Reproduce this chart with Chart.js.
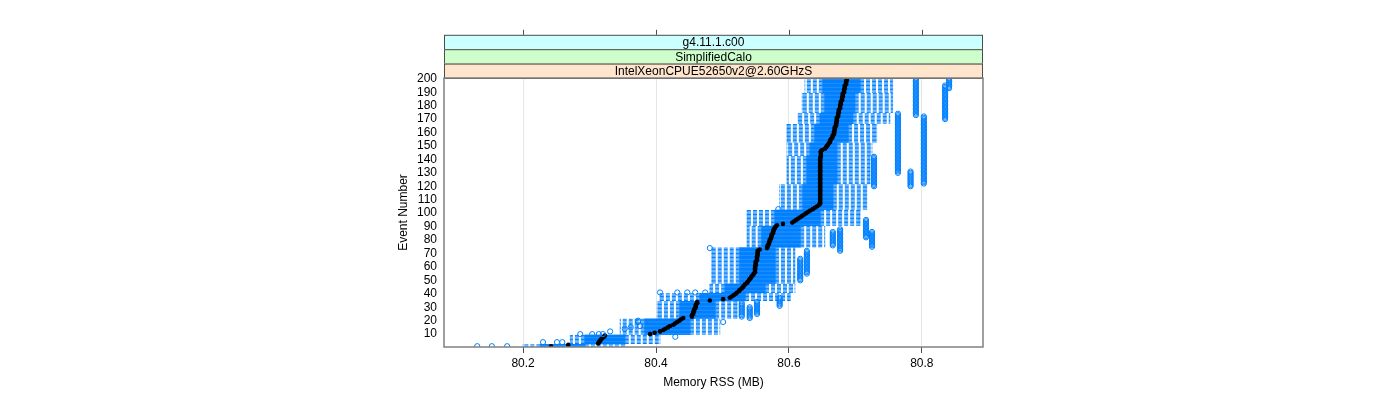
<!DOCTYPE html>
<html>
<head>
<meta charset="utf-8">
<script src="https://cdn.jsdelivr.net/npm/chart.js@4/dist/chart.umd.min.js"></script>
<style>body{margin:0;background:#fff}</style>
</head>
<body>
<canvas id="grafica-memoria" width="1400" height="400"></canvas>
<script>
// etiquetas de los paneles (de arriba a abajo)
const tiras = ['g4.11.1.c00', 'SimplifiedCalo', 'IntelXeonCPUE52650v2@2.60GHzS'];
const coloresTira = ['#ccffff', '#ccffcc', '#ffe5cc'];

const marcasX = [80.2, 80.4, 80.6, 80.8];
const etiquetasX = ['80.2', '80.4', '80.6', '80.8'];
const marcasY = [10, 20, 30, 40, 50, 60, 70, 80, 90, 100, 110, 120, 130, 140, 150, 160, 170, 180, 190, 200];

// mediana por evento (evento 1 .. 200)
const medianas = [
    80.242, 80.268,
    80.313, 80.314, 80.316, 80.317, 80.319, 80.322, 80.323,
    80.391, 80.398, 80.406,
    80.411, 80.414, 80.418, 80.421, 80.426,
    80.429, 80.432, 80.435, 80.438, 80.441,
    80.454, 80.454, 80.456, 80.456, 80.457, 80.457, 80.459, 80.459, 80.460, 80.460, 80.462, 80.462,
    80.481, 80.501,
    80.511, 80.514, 80.517, 80.520, 80.522, 80.525, 80.526, 80.529, 80.531, 80.532, 80.534, 80.537,
    80.538, 80.540, 80.541, 80.543, 80.544, 80.546, 80.547, 80.549, 80.549, 80.549,
    80.549, 80.549, 80.550, 80.550, 80.550, 80.550, 80.552, 80.552, 80.552, 80.552, 80.553, 80.553, 80.553, 80.553, 80.556,
    80.567, 80.568, 80.568, 80.570, 80.570, 80.571, 80.571, 80.573, 80.573, 80.574, 80.574, 80.576, 80.576, 80.577, 80.577, 80.579, 80.580, 80.582,
    80.591, 80.605,
    80.608, 80.611, 80.614, 80.617, 80.620, 80.623, 80.626, 80.629, 80.632, 80.636, 80.639, 80.642, 80.645,
    80.647, 80.647, 80.647, 80.647, 80.647, 80.647, 80.647, 80.647, 80.647, 80.647,
    80.647, 80.647, 80.647, 80.647, 80.647, 80.647, 80.647, 80.647, 80.647, 80.647,
    80.647, 80.647, 80.647, 80.647, 80.647, 80.647, 80.647, 80.647, 80.647, 80.647,
    80.647, 80.647, 80.647, 80.647, 80.647, 80.648, 80.648, 80.648, 80.648, 80.648, 80.650,
    80.654, 80.656, 80.657, 80.659, 80.660, 80.662, 80.662, 80.663, 80.665, 80.666,
    80.666, 80.668, 80.668, 80.668, 80.669, 80.669, 80.669, 80.671, 80.671, 80.671, 80.672, 80.672, 80.672, 80.672, 80.674,
    80.674, 80.674, 80.675, 80.675, 80.675, 80.677, 80.677, 80.677, 80.678, 80.678, 80.678, 80.680, 80.680, 80.680, 80.681,
    80.681, 80.681, 80.683, 80.683, 80.683, 80.684, 80.684, 80.684, 80.686, 80.686, 80.686, 80.687, 80.687
];

// bloques de eventos con la misma caja: ultimo evento del bloque
const bloqueFin   = [2, 9, 21, 34, 40, 47, 74, 90, 102, 121, 142, 152, 166, 174, 189, 200];
const bigoteBajo  = [80.200, 80.271, 80.346, 80.402, 80.406, 80.481, 80.484, 80.537, 80.537, 80.586, 80.597, 80.597, 80.597, 80.614, 80.620, 80.624];
const cajaBaja    = [80.226, 80.293, 80.383, 80.436, 80.466, 80.504, 80.526, 80.559, 80.579, 80.621, 80.627, 80.632, 80.639, 80.647, 80.654, 80.651];
const cajaAlta    = [80.293, 80.353, 80.451, 80.489, 80.534, 80.564, 80.579, 80.617, 80.647, 80.666, 80.672, 80.672, 80.689, 80.696, 80.699, 80.707];
const bigoteAlto  = [80.353, 80.406, 80.496, 80.522, 80.602, 80.609, 80.609, 80.654, 80.707, 80.717, 80.722, 80.725, 80.732, 80.752, 80.756, 80.756];

// atipicos repetidos en varios eventos seguidos
const atipDesde = [173, 122, 170, 193, 130, 120, 120, 50, 55, 76, 72, 82, 75, 23, 22, 25, 31];
const atipHasta = [200, 172, 195, 200, 174, 131, 142, 66, 72, 86, 88, 95, 86, 33, 30, 34, 37];
const atipValor = [80.791, 80.803, 80.835, 80.841, 80.764, 80.783, 80.728, 80.617, 80.627, 80.666, 80.677, 80.716, 80.725, 80.529, 80.541, 80.552, 80.586];

// atipicos sueltos
const sueltoEvento = [1, 1, 1, 4, 4, 4, 10, 10, 10, 10, 12, 14, 15, 16, 19, 20, 8, 19, 41, 41, 41, 41, 41, 74, 103];
const sueltoValor  = [80.131, 80.153, 80.176, 80.230, 80.251, 80.259, 80.286, 80.304, 80.314, 80.320, 80.331, 80.353, 80.362, 80.376, 80.373, 80.373, 80.429, 80.501, 80.406, 80.432, 80.447, 80.459, 80.474, 80.481, 80.584];

const azul = '#0080ff';
const fuente = "'Liberation Sans', Arial, sans-serif";

const puntosAtipicos = [];
atipValor.forEach((v, i) => {
    for (let ev = atipDesde[i]; ev <= atipHasta[i]; ev++) puntosAtipicos.push({x: v, y: ev});
});
sueltoValor.forEach((v, i) => puntosAtipicos.push({x: v, y: sueltoEvento[i]}));

const puntosMediana = medianas.map((v, i) => ({x: v, y: i + 1}));

// cajas y bigotes (estilo bwplot)
const cajas = {
    id: 'cajas',
    beforeDatasetsDraw(chart) {
        const {ctx, chartArea, scales: {x, y}} = chart;
        const alto = Math.abs(y.getPixelForValue(2) - y.getPixelForValue(1)) * 0.25;
        ctx.save();
        ctx.beginPath();
        ctx.rect(chartArea.left, chartArea.top, chartArea.width, chartArea.height);
        ctx.clip();
        ctx.strokeStyle = azul;
        ctx.lineWidth = 1;
        for (let b = 0; b < bloqueFin.length; b++) {
            const desde = b === 0 ? 1 : bloqueFin[b - 1] + 1;
            const xwl = x.getPixelForValue(bigoteBajo[b]);
            const xq1 = x.getPixelForValue(cajaBaja[b]);
            const xq3 = x.getPixelForValue(cajaAlta[b]);
            const xwh = x.getPixelForValue(bigoteAlto[b]);
            for (let ev = desde; ev <= bloqueFin[b]; ev++) {
                const py = y.getPixelForValue(ev);
                ctx.setLineDash([4, 2]);
                ctx.beginPath();
                ctx.moveTo(xq1, py); ctx.lineTo(xwl, py);
                ctx.moveTo(xq3, py); ctx.lineTo(xwh, py);
                ctx.stroke();
                ctx.setLineDash([]);
                ctx.beginPath();
                ctx.moveTo(xwl, py - alto); ctx.lineTo(xwl, py + alto);
                ctx.moveTo(xwh, py - alto); ctx.lineTo(xwh, py + alto);
                ctx.stroke();
                ctx.strokeRect(xq1, py - alto, xq3 - xq1, alto * 2);
            }
        }
        ctx.restore();
    },
    afterDraw(chart) {
        const {ctx, chartArea, scales: {x}} = chart;
        const {left, right, top, bottom} = chartArea;
        const altoTira = 14.4;
        ctx.save();
        // tiras del panel
        tiras.forEach((t, i) => {
            const y0 = top - altoTira * (tiras.length - i);
            ctx.fillStyle = coloresTira[i];
            ctx.fillRect(left, y0, right - left, altoTira);
            ctx.strokeStyle = '#4d4d4d';
            ctx.lineWidth = 1;
            ctx.strokeRect(left + 0.5, y0 + 0.5, right - left - 1, altoTira);
            ctx.fillStyle = '#000';
            ctx.font = '12px ' + fuente;
            ctx.textAlign = 'center';
            ctx.textBaseline = 'middle';
            ctx.fillText(t, (left + right) / 2, y0 + altoTira / 2 + 1);
        });
        // marcas superiores
        const yTop = top - altoTira * tiras.length;
        ctx.strokeStyle = '#4d4d4d';
        ctx.beginPath();
        marcasX.forEach(v => {
            const px = Math.round(x.getPixelForValue(v)) + 0.5;
            ctx.moveTo(px, yTop);
            ctx.lineTo(px, yTop - 5);
        });
        ctx.stroke();
        // borde del panel
        ctx.strokeStyle = '#808080';
        ctx.lineWidth = 1.5;
        ctx.strokeRect(left, top, right - left, bottom - top);
        ctx.restore();
    }
};

const ctx = document.getElementById('grafica-memoria').getContext('2d');
new Chart(ctx, {
    type: 'scatter',
    data: {
        datasets: [
            {
                label: 'atipicos',
                data: puntosAtipicos,
                pointStyle: 'circle',
                pointRadius: 2.6,
                pointBorderWidth: 1,
                pointBorderColor: azul,
                pointBackgroundColor: 'rgba(0,0,0,0)'
            },
            {
                label: 'mediana',
                data: puntosMediana,
                pointStyle: 'circle',
                pointRadius: 2.3,
                pointBorderWidth: 0,
                pointBackgroundColor: '#000'
            }
        ]
    },
    options: {
        responsive: false,
        animation: false,
        events: [],
        layout: {padding: {left: 392, right: 417, top: 78, bottom: 0}},
        plugins: {legend: {display: false}, tooltip: {enabled: false}},
        scales: {
            x: {
                type: 'linear',
                min: 80.081,
                max: 80.892,
                afterBuildTicks: s => { s.ticks = marcasX.map(v => ({value: v})); },
                afterFit: s => { s.height = 53; },
                ticks: {
                    callback: v => etiquetasX[marcasX.indexOf(v)],
                    color: '#000',
                    font: {family: fuente, size: 12},
                    padding: 3,
                    maxRotation: 0,
                    autoSkip: false
                },
                grid: {color: '#e6e6e6', tickColor: '#4d4d4d', tickLength: 6},
                border: {display: false},
                title: {
                    display: true,
                    text: 'Memory RSS (MB)',
                    color: '#000',
                    font: {family: fuente, size: 12},
                    padding: {top: 4, bottom: 10}
                }
            },
            y: {
                type: 'linear',
                min: 0.4,
                max: 200.6,
                afterBuildTicks: s => { s.ticks = marcasY.map(v => ({value: v})); },
                afterFit: s => { s.width = 52; },
                ticks: {
                    callback: v => String(v),
                    color: '#000',
                    font: {family: fuente, size: 12},
                    padding: 7,
                    autoSkip: false
                },
                grid: {display: false, drawTicks: false},
                border: {display: false},
                title: {
                    display: true,
                    text: 'Event Number',
                    color: '#000',
                    font: {family: fuente, size: 12},
                    padding: {top: 4, bottom: 4}
                }
            }
        }
    },
    plugins: [cajas]
});
</script>
</body>
</html>
